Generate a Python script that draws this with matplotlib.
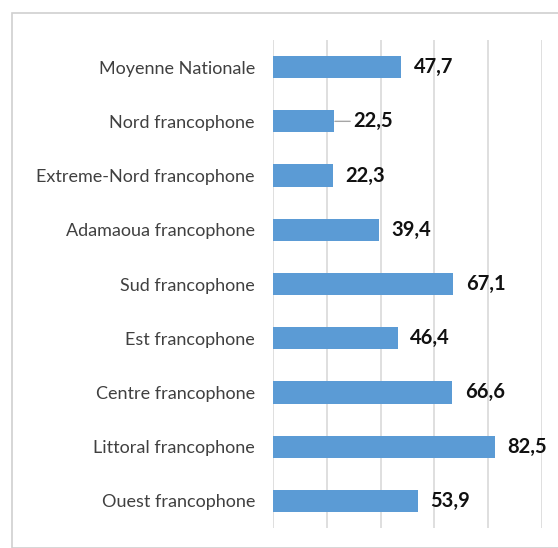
import matplotlib
matplotlib.use("Agg")
import matplotlib.pyplot as plt
from matplotlib.patches import Rectangle

categories = ["Moyenne Nationale", "Nord francophone", "Extreme-Nord francophone",
              "Adamaoua francophone", "Sud francophone", "Est francophone",
              "Centre francophone", "Littoral francophone", "Ouest francophone"]
values = [47.7, 22.5, 22.3, 39.4, 67.1, 46.4, 66.6, 82.5, 53.9]
value_labels = ["47,7", "22,5", "22,3", "39,4", "67,1", "46,4", "66,6", "82,5", "53,9"]

plt.rcParams['font.family'] = ['Lato', 'DejaVu Sans']

fig = plt.figure(figsize=(5.58, 5.48), dpi=100)
fig.patches.append(Rectangle((12/558, 0), 1, 1 - 13/548, transform=fig.transFigure,
                             fill=False, edgecolor='#D0D0D0', linewidth=1.2))
ax = fig.add_axes([273/558, 1 - 528/548, (542 - 273)/558, (528 - 40)/548])

y = list(range(len(categories)))
ax.barh(y, values, height=0.41, color='#5B9BD5', zorder=3)
for i, (yi, v, lab) in enumerate(zip(y, values, value_labels)):
    off = 14 if i == 1 else 9
    ax.annotate(lab, (v, yi), xytext=(off, 0), textcoords='offset points',
                va='center', ha='left', fontsize=14.5, fontweight='bold', color='#111111',
                arrowprops=dict(arrowstyle='-', color='#A6A6A6', lw=1,
                                shrinkA=0, shrinkB=1) if i == 1 else None)

ax.set_ylim(len(categories) - 0.5, -0.5)
ax.set_xlim(0, 100)
ax.set_xticks([0, 20, 40, 60, 80, 100])
ax.set_xticklabels([])
ax.grid(axis='x', color='#D9D9D9', linewidth=1.2, zorder=0)
ax.set_yticks(y)
ax.set_yticklabels(categories, fontsize=13, color='#404040')
ax.tick_params(axis='y', length=0, pad=13)
ax.tick_params(axis='x', length=0)
for s in ax.spines.values():
    s.set_visible(False)

fig.savefig("out.png", dpi=100)
